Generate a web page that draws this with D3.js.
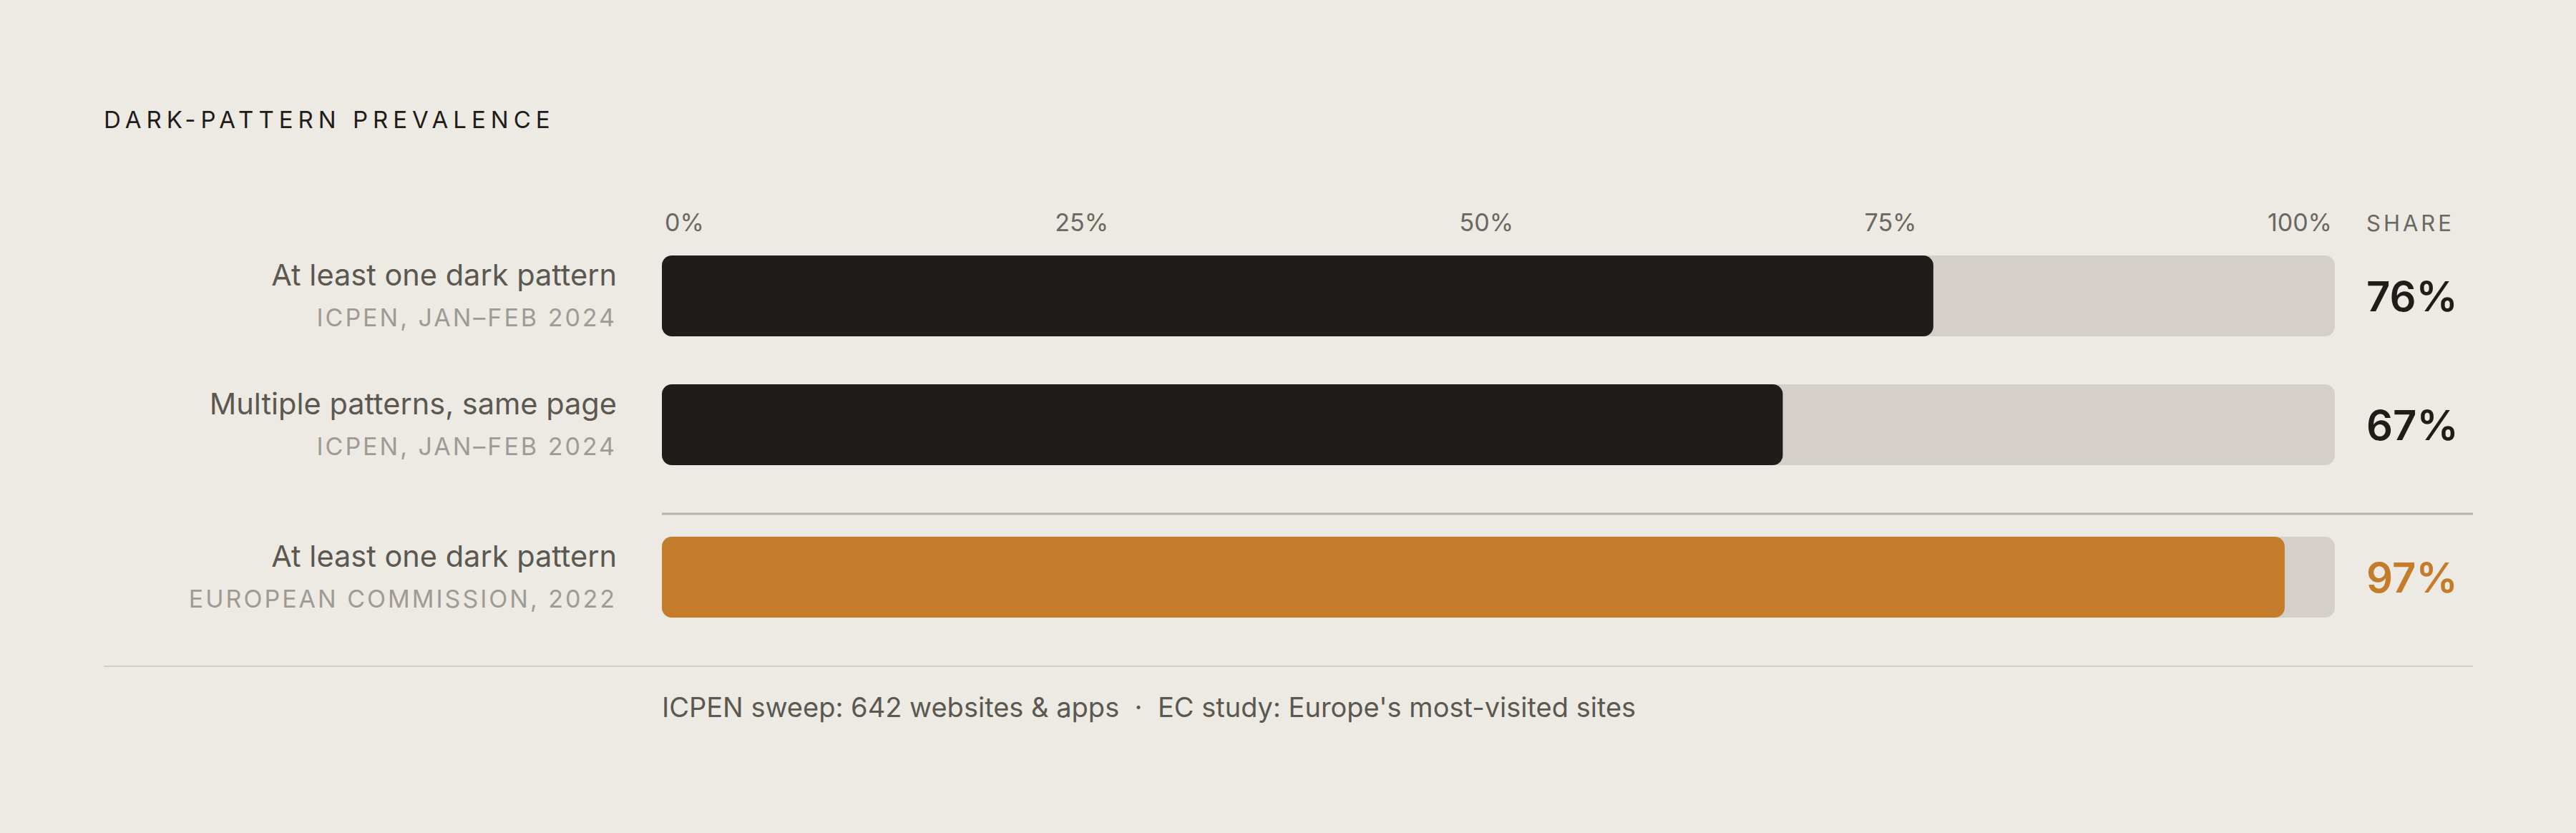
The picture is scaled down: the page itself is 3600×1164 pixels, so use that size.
<!DOCTYPE html>
<html><head><meta charset="utf-8">
<script src="https://cdn.jsdelivr.net/npm/d3@7"></script>
<style>
html,body{margin:0;padding:0;background:#edeae3;}
svg{display:block;font-family:"Inter","DejaVu Sans",sans-serif;}
</style>
</head><body>
<svg id="chart" width="3600" height="1164"></svg>
<script>
// ---- data ----
const categories = ["At least one dark pattern", "Multiple patterns, same page", "At least one dark pattern"];
const sources = ["ICPEN, JAN\u2013FEB 2024", "ICPEN, JAN\u2013FEB 2024", "EUROPEAN COMMISSION, 2022"];
const groups = ["ICPEN", "ICPEN", "EC"];
const values = [76, 67, 97];
const tickValues = [0, 25, 50, 75, 100];
const tickLabels = ["0%", "25%", "50%", "75%", "100%"];
const titleText = "DARK-PATTERN PREVALENCE";
const valueHeader = "SHARE";
const footnote = "ICPEN sweep: 642 websites & apps  \u00B7  EC study: Europe's most-visited sites";

// ---- layout ----
const W = 3600, H = 1164;
const left = 145, right = 3456;
const trackX0 = 925, trackX1 = 3263;
const barH = 113, rowStep = 180, groupGap = 33, firstTop = 357;
const valueX = 3307;

const C = {
  bg: "#edeae3", track: "#d4cfc8", dark: "#1f1d1a", accent: "#c47c2b",
  label: "#5b5852", source: "#9f9b94", tick: "#6b6761", rule: "#b8b4ad", ruleLight: "#d2cec7"
};

const svg = d3.select("#chart");
svg.append("rect").attr("width", W).attr("height", H).attr("fill", C.bg);

const x = d3.scaleLinear().domain([0, 100]).range([trackX0, trackX1]);

const rows = categories.map((c, i) => ({
  i, cat: c, src: sources[i], group: groups[i], value: values[i],
  highlight: groups[i] !== groups[0]
}));
let gapCount = 0;
rows.forEach((r, i) => {
  if (i > 0 && rows[i].group !== rows[i - 1].group) gapCount++;
  r.top = firstTop + i * rowStep + gapCount * groupGap;
  r.cy = r.top + barH / 2;
});

// title
svg.append("text").attr("x", left).attr("y", 179)
  .attr("font-size", 33).attr("letter-spacing", "7px").attr("fill", C.dark)
  .text(titleText);

// tick labels distributed like flex space-between across the track
const tickG = svg.append("g").attr("font-size", 34).attr("fill", C.tick);
const tickTexts = tickG.selectAll("text").data(tickValues).join("text")
  .attr("y", 323).text((d, i) => tickLabels[i]);
const widths = tickTexts.nodes().map(n => n.getComputedTextLength());
const span = x(100) - x(0) - 8;
const gap = (span - d3.sum(widths)) / (tickValues.length - 1);
let cur = x(0) + 4;
tickTexts.attr("x", (d, i) => { const p = cur; cur += widths[i] + gap; return p; });

// header
svg.append("text").attr("x", valueX).attr("y", 323)
  .attr("font-size", 31).attr("letter-spacing", "4px").attr("fill", C.tick)
  .text(valueHeader);

// rows
const rowG = svg.selectAll("g.row").data(rows).join("g").attr("class", "row");
rowG.append("rect").attr("x", x(0)).attr("y", d => d.top)
  .attr("width", x(100) - x(0)).attr("height", barH).attr("rx", 14).attr("fill", C.track);
rowG.append("rect").attr("x", x(0)).attr("y", d => d.top)
  .attr("width", d => x(d.value) - x(0)).attr("height", barH).attr("rx", 14)
  .attr("fill", d => d.highlight ? C.accent : C.dark);
rowG.append("text").attr("x", 862).attr("y", d => d.cy - 15)
  .attr("text-anchor", "end").attr("font-size", 41.5).attr("fill", C.label)
  .text(d => d.cat);
rowG.append("text").attr("x", 862).attr("y", d => d.cy + 42)
  .attr("text-anchor", "end").attr("font-size", 34).attr("letter-spacing", "3px").attr("fill", C.source)
  .text(d => d.src);
rowG.append("text").attr("x", valueX).attr("y", d => d.cy + 21.5)
  .attr("font-size", 58).attr("font-weight", 600)
  .attr("fill", d => d.highlight ? C.accent : C.dark)
  .text(d => d.value + "%");

// separator between groups
rows.forEach((r, i) => {
  if (i > 0 && r.group !== rows[i - 1].group) {
    svg.append("line").attr("x1", x(0)).attr("x2", right)
      .attr("y1", r.top - 32).attr("y2", r.top - 32)
      .attr("stroke", C.rule).attr("stroke-width", 3);
  }
});

// bottom rule
const last = rows[rows.length - 1];
svg.append("line").attr("x1", left).attr("x2", right)
  .attr("y1", last.top + barH + 68).attr("y2", last.top + barH + 68)
  .attr("stroke", C.ruleLight).attr("stroke-width", 2);

// footnote
svg.append("text").attr("x", x(0)).attr("y", 1002)
  .attr("font-size", 38).attr("fill", C.label).style("white-space", "pre")
  .text(footnote);
</script>
</body></html>
